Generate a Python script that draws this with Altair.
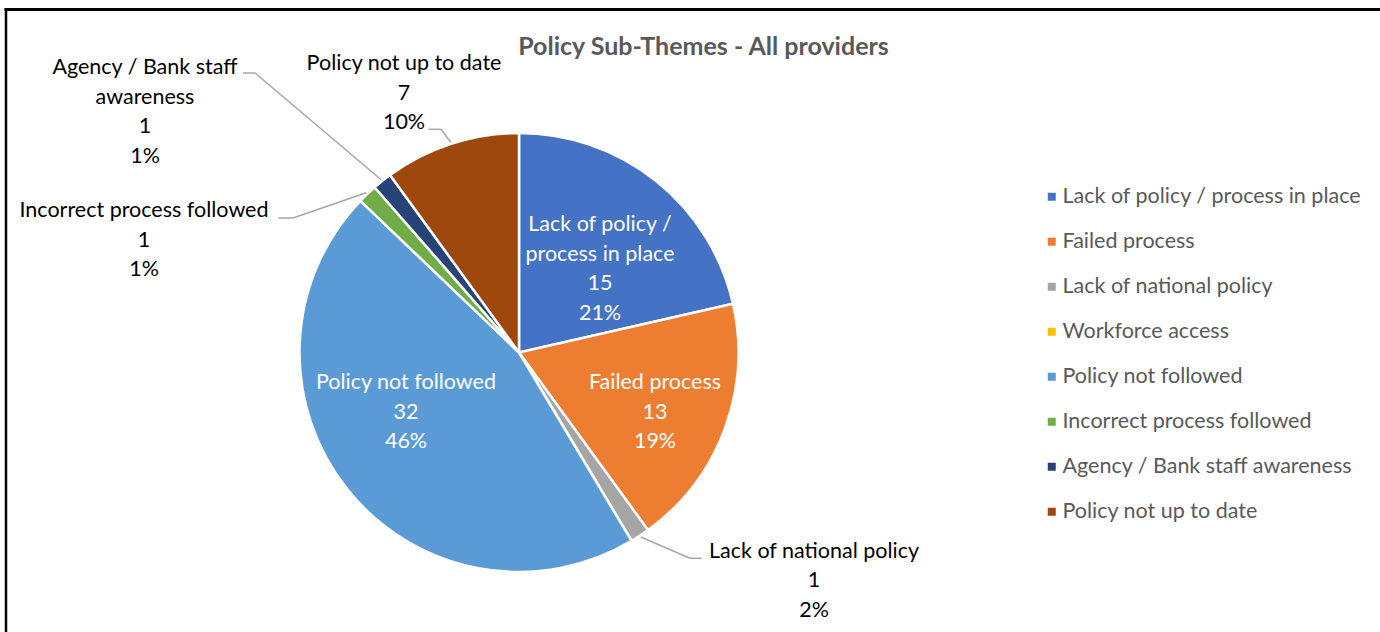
import math
import altair as alt
import pandas as pd

# ---- data ----
categories = [
    "Lack of policy / process in place",
    "Failed process",
    "Lack of national policy",
    "Workforce access",
    "Policy not followed",
    "Incorrect process followed",
    "Agency / Bank staff awareness",
    "Policy not up to date",
]
counts = [15, 13, 1, 0, 32, 1, 1, 7]
percent_labels = ["21%", "19%", "2%", "0%", "46%", "1%", "1%", "10%"]
label_names = [
    "Lack of policy /\nprocess in place",
    "Failed process",
    "Lack of national policy",
    "",
    "Policy not followed",
    "Incorrect process followed",
    "Agency / Bank staff\nawareness",
    "Policy not up to date",
]
colors = ["#4472C4", "#ED7D31", "#A5A5A5", "#FFC000",
          "#5B9BD5", "#70AD47", "#264478", "#9E480E"]
title_text = "Policy Sub-Themes - All providers"

# ---- layout (pixel positions of annotations, not data) ----
W, H = 1380, 632
CX, CY, R = 519, 352.5, 219.5
FONT = "Lato"
FS = 21.5
LH = 29.5
label_inside = [True, True, False, False, True, False, False, False]
label_x = [600, 655, 814, None, 406, 144, 145, 404]
label_y = [225, 383, 551.5, None, 383, 211, 68, 64]   # first line centre
# leader lines: elbow and label-side end; pie-side end computed from slice angles
leader_cats = ["Lack of national policy", "Incorrect process followed",
               "Agency / Bank staff awareness", "Policy not up to date"]
leader_elbow = [(690, 558.3), (293, 218), (255, 73), (441, 129.3)]
leader_end = [(701.7, 558.3), (278.6, 218), (243, 73), (428.6, 129.3)]
LEADER_R = 221

total = sum(counts)
df = pd.DataFrame({
    "category": categories,
    "count": counts,
    "order": list(range(len(categories))),
})
text_rows = []
for i, c in enumerate(categories):
    if not label_names[i]:
        continue
    text_rows.append({
        "category": c,
        "label": f"{label_names[i]}\n{counts[i]}\n{percent_labels[i]}",
        "lx": label_x[i], "ly": label_y[i],
        "inside": label_inside[i],
    })
tdf = pd.DataFrame(text_rows)

# slice mid angles from the counts
mids = {}
acc = 0.0
for c, v in zip(categories, counts):
    span = v / total * 2 * math.pi
    mids[c] = acc + span / 2
    acc += span
seg_rows = []
for c, (ex, ey), (lx, ly) in zip(leader_cats, leader_elbow, leader_end):
    a = mids[c]
    px = CX + LEADER_R * math.sin(a)
    py = CY - LEADER_R * math.cos(a)
    seg_rows.append({"x": px, "y": py, "x2": ex, "y2": ey})
    seg_rows.append({"x": ex, "y": ey, "x2": lx, "y2": ly})
ldf = pd.DataFrame(seg_rows)

pie = alt.Chart(df).mark_arc(radius=R, stroke="white", strokeWidth=2.5).encode(
    theta=alt.Theta("count:Q", stack=True),
    color=alt.Color(
        "category:N",
        scale=alt.Scale(domain=categories, range=colors),
        sort=categories,
        legend=alt.Legend(
            orient="none", legendX=1041, legendY=186, title=None,
            symbolType="square", symbolSize=64, symbolStrokeWidth=0,
            labelFont=FONT, labelFontSize=FS, labelColor="#595959",
            labelOffset=0, rowPadding=22, labelLimit=400,
        ),
    ),
    order=alt.Order("order:Q"),
    x=alt.value(CX),
    y=alt.value(CY),
)

leaders = alt.Chart(ldf).mark_rule(color="#A6A6A6", strokeWidth=1.5).encode(
    x=alt.X("x:Q", scale=None), y=alt.Y("y:Q", scale=None),
    x2="x2:Q", y2="y2:Q",
)

txt_in = alt.Chart(tdf).transform_filter("datum.inside").mark_text(
    font=FONT, fontSize=FS, color="white", lineBreak="\n", lineHeight=LH,
    align="center", baseline="middle",
).encode(x=alt.X("lx:Q", scale=None), y=alt.Y("ly:Q", scale=None), text="label:N")

txt_out = alt.Chart(tdf).transform_filter("!datum.inside").mark_text(
    font=FONT, fontSize=FS, color="#000000", lineBreak="\n", lineHeight=LH,
    align="center", baseline="middle",
).encode(x=alt.X("lx:Q", scale=None), y=alt.Y("ly:Q", scale=None), text="label:N")

title = alt.Chart(pd.DataFrame({"t": [title_text]})).mark_text(
    font=FONT, fontSize=25, fontWeight="bold", color="#595959",
    align="center", baseline="middle",
).encode(x=alt.value(703.5), y=alt.value(47), text="t:N")

frame_top = alt.Chart(pd.DataFrame({"a": [0]})).mark_rule(
    color="black", strokeWidth=3).encode(
    x=alt.value(4.5), x2=alt.value(W), y=alt.value(9.5), y2=alt.value(9.5))
frame_left = alt.Chart(pd.DataFrame({"a": [0]})).mark_rule(
    color="black", strokeWidth=2.5).encode(
    x=alt.value(6), x2=alt.value(6), y=alt.value(8), y2=alt.value(H))

chart = alt.layer(
    pie, leaders, txt_in, txt_out, title, frame_top, frame_left
).properties(
    width=W, height=H, padding=0,
    autosize=alt.AutoSizeParams(type="none"),
    background="white",
).configure_view(stroke=None)

chart.save("out.html", embed_options={"renderer": "svg", "actions": False})
